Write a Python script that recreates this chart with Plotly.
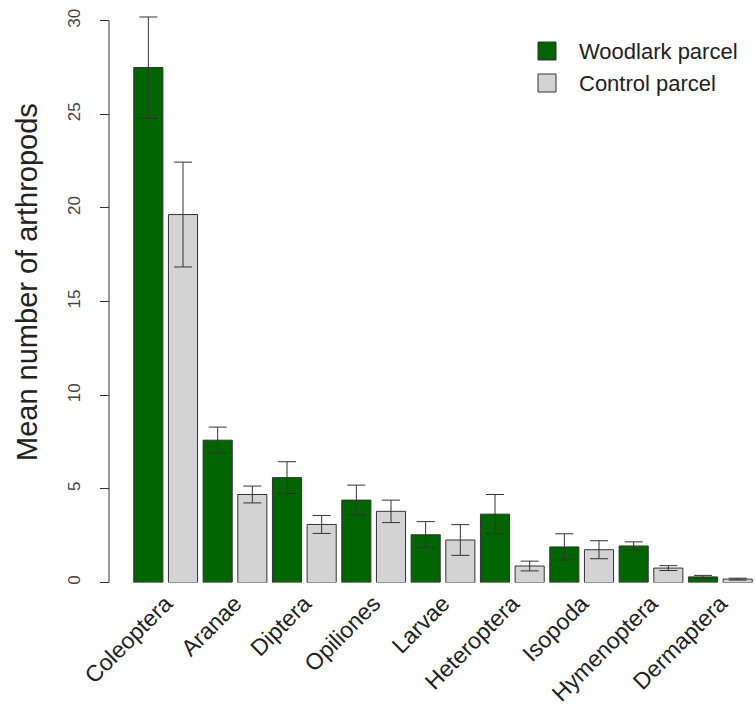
import plotly.graph_objects as go

# Mean arthropod counts per taxon (with standard errors) for the two parcels
categories = ["Coleoptera", "Aranae", "Diptera", "Opiliones", "Larvae",
              "Heteroptera", "Isopoda", "Hymenoptera", "Dermaptera"]
woodlark = [27.5, 7.6, 5.6, 4.4, 2.55, 3.65, 1.9, 1.95, 0.3]
woodlark_se = [2.7, 0.7, 0.85, 0.8, 0.7, 1.05, 0.7, 0.22, 0.08]
control = [19.65, 4.7, 3.1, 3.8, 2.27, 0.88, 1.75, 0.77, 0.18]
control_se = [2.8, 0.45, 0.48, 0.6, 0.82, 0.26, 0.48, 0.13, 0.05]
series_names = ["Woodlark parcel", "Control parcel"]
y_ticks = [0, 5, 10, 15, 20, 25, 30]

W, H = 755, 708
GREEN = "#006400"
GREY = "#d3d3d3"
EDGE = "#333333"
TEXT = "#222222"
FONT = "Liberation Sans, Arial, sans-serif"


def px_x(p):
    return p / W


def px_y(p):
    return 1 - p / H


fig = go.Figure()
for name, vals, se, col in [(series_names[0], woodlark, woodlark_se, GREEN),
                            (series_names[1], control, control_se, GREY)]:
    fig.add_trace(go.Bar(
        x=categories, y=vals, name=name,
        marker=dict(color=col, line=dict(color=EDGE, width=1)),
        error_y=dict(type="data", array=se, visible=True,
                     color=EDGE, thickness=1, width=9),
        showlegend=False,
    ))

shapes = [
    # y-axis line spanning the tick range only
    dict(type="line", xref="paper", yref="y", x0=px_x(109), x1=px_x(109),
         y0=y_ticks[0], y1=y_ticks[-1], line=dict(color=EDGE, width=1)),
]
annotations = [
    dict(text="Mean number of arthropods", xref="paper", yref="paper",
         x=px_x(27), y=px_y(282), textangle=-90, showarrow=False,
         xanchor="center", yanchor="middle",
         font=dict(family=FONT, size=29, color=TEXT)),
]

# legend drawn as filled squares with labels
legend_cols = [GREEN, GREY]
for i, (name, col) in enumerate(zip(series_names, legend_cols)):
    cy = 51 + 32 * i
    shapes.append(dict(type="rect", xref="paper", yref="paper",
                       x0=px_x(538), x1=px_x(556),
                       y0=px_y(cy - 9), y1=px_y(cy + 9),
                       fillcolor=col, line=dict(color=EDGE, width=1)))
    annotations.append(dict(text=name, xref="paper", yref="paper",
                            x=px_x(577), y=px_y(cy), showarrow=False,
                            xanchor="left", yanchor="middle",
                            font=dict(family=FONT, size=22, color=TEXT)))

fig.update_layout(
    template="none",
    width=W, height=H,
    margin=dict(l=0, r=0, t=0, b=0),
    paper_bgcolor="white", plot_bgcolor="white",
    barmode="group", bargap=0.0, bargroupgap=0.16,
    font=dict(family=FONT, color=TEXT),
    xaxis=dict(domain=[px_x(131), 1.0], type="category",
               showline=False, showgrid=False, zeroline=False,
               ticks="", tickangle=-45, automargin=False,
               ticklabelstandoff=2,
               tickfont=dict(family=FONT, size=23, color=TEXT)),
    yaxis=dict(domain=[125.5 / H, 1 - 2 / H], range=[0, 31],
               anchor="free", position=px_x(109),
               showline=False, showgrid=False, zeroline=False,
               tickvals=y_ticks, ticks="outside", ticklen=9,
               tickcolor=EDGE, tickwidth=1, tickangle=-90,
               automargin=False, ticklabelstandoff=13,
               tickfont=dict(family=FONT, size=17, color="#444444")),
    shapes=shapes,
    annotations=annotations,
)

fig.write_html("out.html")
